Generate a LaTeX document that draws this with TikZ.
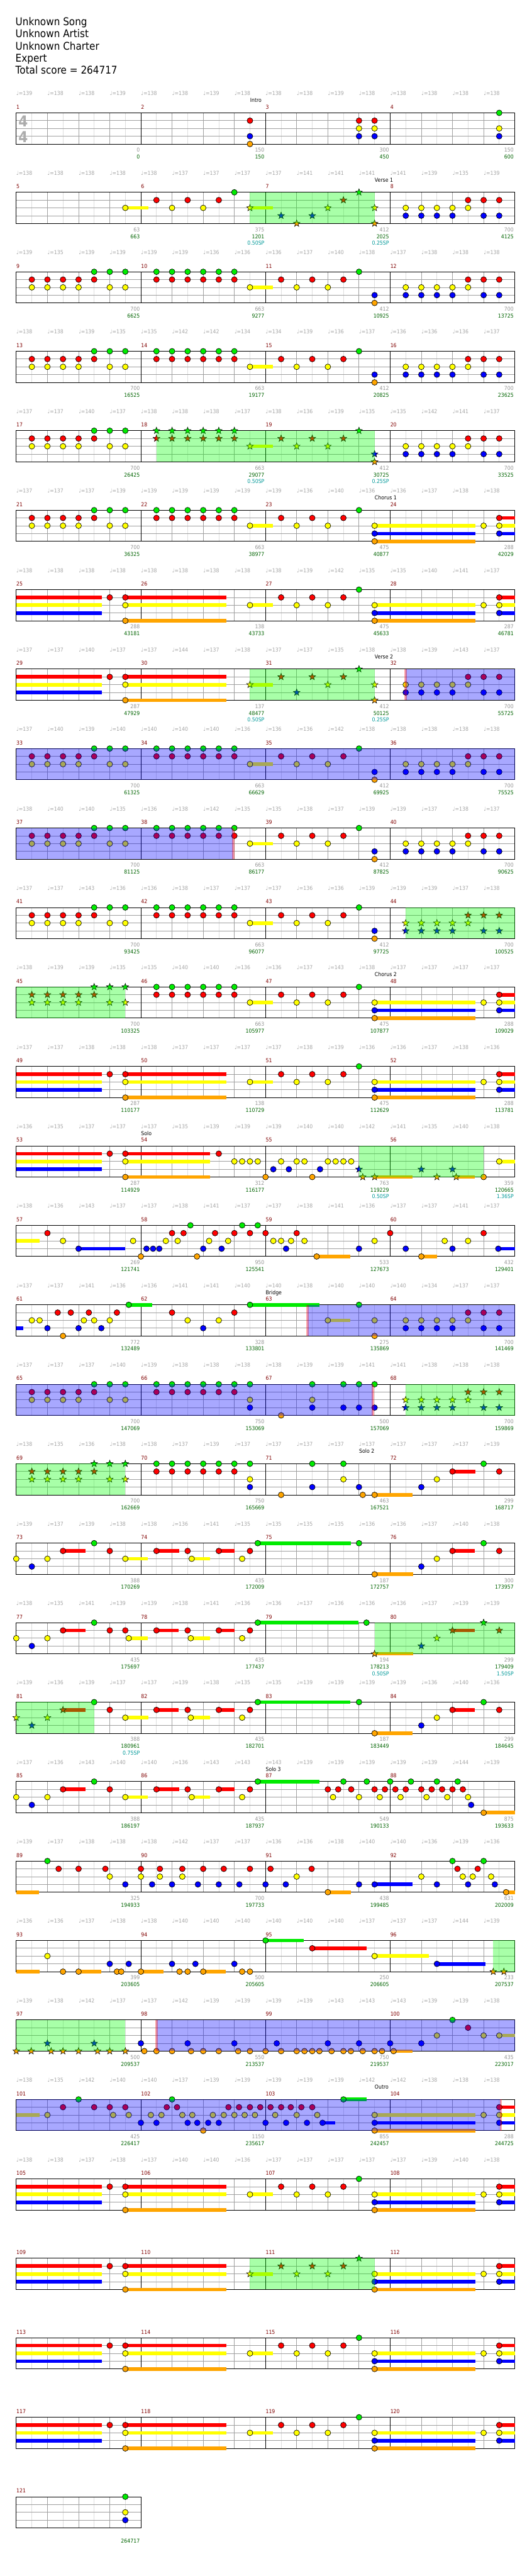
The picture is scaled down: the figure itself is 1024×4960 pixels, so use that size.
\documentclass[tikz,border=0pt]{standalone}
\usepackage{fontspec}
\setmainfont{DejaVu Sans}[FakeStretch=0.9]
\usetikzlibrary{shapes.geometric}

\definecolor{lane0}{RGB}{0,235,0}
\definecolor{lane1}{RGB}{255,0,0}
\definecolor{lane2}{RGB}{255,255,0}
\definecolor{lane3}{RGB}{0,0,255}
\definecolor{lane4}{RGB}{255,165,0}
\definecolor{gridgray}{RGB}{160,160,160}
\definecolor{gridlight}{RGB}{222,222,222}
\definecolor{tempogray}{RGB}{165,165,165}
\definecolor{scoregray}{RGB}{150,150,150}
\definecolor{scoregreen}{RGB}{0,100,0}
\definecolor{spcyan}{RGB}{0,153,153}
\definecolor{mnumred}{RGB}{128,0,0}

\tikzset{
  row/.style={shift={(31.3,{217.3+153*#1})},x=30pt,y=-7.5pt},
  nt/.style={circle, draw, line width=0.4pt, inner sep=0pt, minimum size=5.5pt},
  st/.style={star, star points=5, star point ratio=2.4, draw, line width=0.35pt, inner sep=0pt, minimum size=6.8pt},
  small/.style={font=\fontsize{5.25pt}{6pt}\selectfont, inner sep=0pt},
  tempo/.style={small, text=tempogray, anchor=base west},
  mnum/.style={small, text=mnumred, anchor=base west},
  gscore/.style={small, text=scoregray, anchor=base east},
  cscore/.style={small, text=scoregreen, anchor=base east},
  spscore/.style={small, text=spcyan, anchor=base east},
  section/.style={small, anchor=base west},
  title/.style={font=\fontsize{10.25pt}{12pt}\selectfont, inner sep=0pt, anchor=base west},
  tsig/.style={font=\fontsize{14.5pt}{15pt}\selectfont\bfseries, text=gray!65, inner sep=0pt},
}

% staff grid for one row, #1 = number of beats
\newcommand\staff[1]{%
  \foreach \kk in {1,...,#1} \draw[gridlight, line width=0.5pt] (\kk-.5,0) -- (\kk-.5,4);
  \foreach \kk in {1,...,#1} \draw[gridgray, line width=0.5pt] (\kk,0) -- (\kk,4);
  \foreach \lan in {1,2,3} \draw[gridgray, line width=0.5pt] (0,\lan) -- (#1,\lan);
  \ifnum#1>4 \foreach \kk in {4,8,...,#1} \draw[line width=0.5pt] (\kk,0) -- (\kk,4);\fi
  \draw[line width=0.5pt] (0,0) rectangle (#1,4);
}
% notes, star notes, sustains
\newcommand\nts[1]{\foreach \pos/\lan in {#1} \node[nt, fill=lane\lan] at (\pos,\lan) {};}
\newcommand\sts[1]{\foreach \pos/\lan in {#1} \node[st, fill=lane\lan] at (\pos,\lan) {};}
\newcommand\sus[1]{\foreach \pa/\pe/\lan in {#1} \fill[lane\lan] (\pa,\lan-.23) rectangle (\pe,\lan+.23);}
\newcommand\ysus[2]{\fill[lane2] (#1,1.77) rectangle (#1+.74,2.23); \node[#2, fill=lane2] at (#1,2) {};}
% repeating riffs, #1 = offset, #2 = note style
\newcommand\riffA[2]{\foreach \pos/\lan in {0.5/1,0.5/2,1/1,1/2,1.5/1,1.5/2,2/1,2/2,2.5/0,2.5/1,3/0,3/2,3.5/0,3.5/2} \node[#2, fill=lane\lan] at (#1+\pos,\lan) {};}
\newcommand\riffB[2]{\foreach \pos in {0.5,1,...,3} {\node[#2, fill=lane0] at (#1+\pos,0) {}; \node[#2, fill=lane1] at (#1+\pos,1) {};}}
\newcommand\riffC[2]{\foreach \pos/\lan in {0.5/1,1/2,1.5/1,2/2,2.5/1,3/0} \node[#2, fill=lane\lan] at (#1+\pos,\lan) {};}
\newcommand\riffD[2]{\foreach \pos/\lan in {0.5/2,0.5/3,1/2,1/3,1.5/2,1.5/3,2/2,2/3,2.5/1,2.5/2,3/1,3/3,3.5/1,3.5/3} \node[#2, fill=lane\lan] at (#1+\pos,\lan) {};}
\newcommand\riffrow{\riffA{0}{nt}\riffB{4}{nt}\ysus{7.5}{nt}\riffC{8}{nt}\nts{11.5/3,11.5/4}\riffD{12}{nt}}
\newcommand\chorushead{\sus{0/2.74/1,0/2.74/2,0/2.74/3,3.5/6.75/1,3.5/6.75/2,3.5/6.75/4}\nts{3/1,3.5/1,3.5/2,3.5/4}}
\newcommand\chorustail{\sus{11.5/14.74/2,11.5/14.74/3,11.5/14.74/4,15.5/16/1,15.5/16/2,15.5/16/3}\nts{11.5/2,11.5/3,11.5/4,15/2,15.5/1,15.5/2,15.5/3}}
\newcommand\solohead{\sus{1.5/2.23/1,3.5/4.22/2,4.5/5.24/1,5.63/6.22/2,6.5/7/1}\nts{0/2,0.5/3,1/2,1.5/1,2.5/0,3/1,3.5/2,4.5/1,5.5/1,5.63/2,6.5/1,7.25/2,7.5/1}}
% overlays
\newcommand\spg[2]{\fill[green, opacity=.34] (#1,0) rectangle (#2,4);}
\newcommand\odv[2]{\fill[blue, opacity=.34] (#1,0) rectangle (#2,4);}
\newcommand\pink[1]{\fill[red, opacity=.34] (#1-.035,0) rectangle (#1+.035,4);}
% labels
\newcommand\tempi[1]{\foreach \tm [count=\i from 0] in {#1} \node[tempo] at (\i,-2.22) {♩=\tm};}
\newcommand\mnums[2]{\foreach \i in {1,...,#2} {\pgfmathtruncatemacro\mn{#1+\i-1}\node[mnum] at (4*\i-4,-.49) {\mn};}}
\newcommand\scores[1]{\foreach \gv/\cv [count=\i] in {#1} {\node[gscore] at (4*\i-.03,5.03) {\gv}; \node[cscore] at (4*\i-.03,5.91) {\cv};}}
\newcommand\spv[2]{\node[spscore] at (#1-.03,6.78) {#2};}
\newcommand\sect[2]{\node[section] at (#1,-1.33) {#2};}

\begin{document}
\begin{tikzpicture}[x=0.5pt,y=-0.5pt]
\useasboundingbox (0,0) rectangle (1024,4960);
\fill[white] (0,0) rectangle (1024,4960);

\node[title] (song) at (29.5,49.3) {Unknown Song};
\node[title] (artist) at (29.5,72.6) {Unknown Artist};
\node[title] (charter) at (29.5,95.9) {Unknown Charter};
\node[title] (level) at (29.5,119.2) {Expert};
\node[title] (total) at (29.5,142.5) {Total score = 264717};

\begin{scope}[row=0]
  \staff{16}
  \node[tsig] at (.22,1.07) {4}; \node[tsig] at (.22,3.07) {4};
  \nts{7.5/1,7.5/3,7.5/4,11/1,11/2,11/3,11.5/1,11.5/2,11.5/3,15.5/0,15.5/2,15.5/3}
  \tempi{139,138,138,139,138,138,139,138,138,138,139,138,138,138,138,138}
  \mnums{1}{4}
  \scores{0/0,150/150,300/450,150/600}
  \sect{7.5}{Intro}
\end{scope}

\begin{scope}[row=1]
  \staff{16}
  \ysus{3.5}{nt}
  \nts{4.5/1,5/2,5.5/1,6/2,6.5/1,7/0}
  \ysus{7.5}{st}
  \sts{8.5/3,9/4,9.5/3,10/2,10.5/1,11/0,11.5/2,11.5/4}
  \riffD{12}{nt}
  \spg{7.5}{11.5}
  \tempi{138,138,138,138,138,137,137,137,137,141,141,141,141,139,135,139}
  \mnums{5}{4}
  \scores{63/663,375/1201,412/2025,700/4125}
  \spv{8}{0.50SP}\spv{12}{0.25SP}
  \sect{11.5}{Verse 1}
\end{scope}

\begin{scope}[row=2]
  \staff{16}
  \riffrow
  \tempi{139,135,139,139,139,139,136,136,136,137,140,138,137,138,138,138}
  \mnums{9}{4}
  \scores{700/6625,663/9277,412/10925,700/13725}
\end{scope}

\begin{scope}[row=3]
  \staff{16}
  \riffrow
  \tempi{138,138,139,135,135,142,142,134,134,139,136,137,136,136,136,137}
  \mnums{13}{4}
  \scores{700/16525,663/19177,412/20825,700/23625}
\end{scope}

\begin{scope}[row=4]
  \staff{16}
  \riffA{0}{nt}\riffB{4}{st}\ysus{7.5}{st}\riffC{8}{st}\sts{11.5/3,11.5/4}\riffD{12}{nt}
  \spg{4.5}{11.5}
  \tempi{137,137,140,137,138,138,138,137,138,136,139,135,135,142,141,137}
  \mnums{17}{4}
  \scores{700/26425,663/29077,412/30725,700/33525}
  \spv{8}{0.50SP}\spv{12}{0.25SP}
\end{scope}

\begin{scope}[row=5]
  \staff{16}
  \riffA{0}{nt}\riffB{4}{nt}\ysus{7.5}{nt}\riffC{8}{nt}\chorustail
  \tempi{137,137,137,139,139,139,139,139,139,136,140,136,136,137,138,138}
  \mnums{21}{4}
  \scores{700/36325,663/38977,475/40877,288/42029}
  \sect{11.5}{Chorus 1}
\end{scope}

\begin{scope}[row=6]
  \staff{16}
  \chorushead\ysus{7.5}{nt}\riffC{8}{nt}\chorustail
  \tempi{138,138,138,138,138,138,138,138,138,139,142,135,135,140,141,137}
  \mnums{25}{4}
  \scores{288/43181,138/43733,475/45633,287/46781}
\end{scope}

\begin{scope}[row=7]
  \staff{16}
  \chorushead\ysus{7.5}{st}
  \sts{8.5/1,9/3,9.5/1,10/2,10.5/1,11/0,11.5/2,11.5/4}
  \riffD{12}{nt}
  \spg{7.5}{11.5}\odv{12.5}{16}\pink{12.5}
  \tempi{137,137,140,137,137,144,137,138,137,137,135,138,138,139,143,137}
  \mnums{29}{4}
  \scores{287/47929,137/48477,412/50125,700/55725}
  \spv{8}{0.50SP}\spv{12}{0.25SP}
  \sect{11.5}{Verse 2}
\end{scope}

\begin{scope}[row=8]
  \staff{16}
  \riffrow
  \odv{0}{16}
  \tempi{137,140,139,140,140,140,140,136,136,136,142,138,138,138,138,138}
  \mnums{33}{4}
  \scores{700/61325,663/66629,412/69925,700/75525}
\end{scope}

\begin{scope}[row=9]
  \staff{16}
  \riffrow
  \odv{0}{6.97}\pink{6.965}
  \tempi{138,140,140,135,136,138,142,135,135,138,137,139,139,137,138,137}
  \mnums{37}{4}
  \scores{700/81125,663/86177,412/87825,700/90625}
\end{scope}

\begin{scope}[row=10]
  \staff{16}
  \riffA{0}{nt}\riffB{4}{nt}\ysus{7.5}{nt}\riffC{8}{nt}\nts{11.5/3,11.5/4}\riffD{12}{st}
  \spg{12.5}{16}
  \tempi{137,137,143,136,136,138,137,137,137,136,136,139,139,139,137,138}
  \mnums{41}{4}
  \scores{700/93425,663/96077,412/97725,700/100525}
\end{scope}

\begin{scope}[row=11]
  \staff{16}
  \riffA{0}{st}\riffB{4}{nt}\ysus{7.5}{nt}\riffC{8}{nt}\chorustail
  \spg{0}{3.5}
  \tempi{138,139,139,135,135,140,140,136,136,137,143,138,137,137,137,137}
  \mnums{45}{4}
  \scores{700/103325,663/105977,475/107877,288/109029}
  \sect{11.5}{Chorus 2}
\end{scope}

\begin{scope}[row=12]
  \staff{16}
  \chorushead\ysus{7.5}{nt}\riffC{8}{nt}\chorustail
  \tempi{137,137,138,138,138,137,137,137,137,138,139,136,136,137,138,136}
  \mnums{49}{4}
  \scores{287/110177,138/110729,475/112629,288/113781}
\end{scope}

\begin{scope}[row=13]
  \staff{16}
  \sus{0/2.74/1,0/2.74/2,0/2.74/3,3.5/6.22/1,3.5/6.22/2,3.5/6.22/4,11.5/12.72/4,14.12/14.72/4,15.5/16/2}
  \nts{3/1,3.5/1,3.5/2,3.5/4,6.5/1,7/2,7.25/2,7.5/2,7.75/2,8/4,8.25/3,8.5/2,8.75/3,9/2,9.25/2,9.5/4,9.75/3,10/2,10.25/2,10.5/2,10.75/2,15/4,15.5/2}
  \sts{11/3,11.12/4,11.5/4,13/3,13.5/4,14/3,14.12/4}
  \spg{11}{15}
  \tempi{136,135,137,137,137,135,139,139,139,140,140,142,141,135,140,138}
  \mnums{53}{4}
  \scores{287/114929,312/116177,763/119229,359/120665}
  \spv{12}{0.50SP}\spv{16}{1.36SP}
  \sect{4}{Solo}
\end{scope}

\begin{scope}[row=14]
  \staff{16}
  \sus{0/0.74/2,2/3.49/3,9.64/10.72/4,13/13.5/4,15.47/16/3}
  \nts{1/1,1.5/2,2/3,3.75/2,4/4,4.18/3,4.39/3,4.59/3,4.8/2,5/1,5.18/2,5.37/1,5.59/0,5.8/4,6/3,6.19/2,6.38/1,6.59/3,6.8/2,7/1,7.25/0,7.5/1,7.75/0,8/1,8.25/2,8.5/2,8.66/3,8.82/2,9/1,9.25/2,9.64/4,11/3,11.5/2,12/1,12.5/3,13/4,13.75/2,14/3,14.5/2,15/1,15.47/3}
  \tempi{138,136,143,137,137,138,141,137,137,138,141,136,137,137,141,137}
  \mnums{57}{4}
  \scores{269/121741,950/125541,533/127673,432/129401}
\end{scope}

\begin{scope}[row=15]
  \staff{16}
  \sus{0/0.23/3,3.61/4.36/0,7.5/9.74/0,10/10.72/2}
  \nts{0.5/2,0.75/2,1/3,1.33/1,1.5/4,1.75/1,2/3,2.17/2,2.33/1,2.5/2,2.73/3,3/2,3.23/1,3.61/0,5/1,5.5/2,6/3,6.5/2,7/1,7.5/0,10/2,11/0,11.5/2,11.5/4}
  \riffD{12}{nt}
  \odv{9.35}{16}\pink{9.35}
  \tempi{137,137,141,136,136,141,141,140,140,138,140,140,140,134,137,137}
  \mnums{61}{4}
  \scores{772/132489,328/133801,275/135869,700/141469}
  \sect{8}{Bridge}
\end{scope}

\begin{scope}[row=16]
  \staff{16}
  \riffA{0}{nt}\riffB{4}{nt}
  \nts{7.5/0,7.5/2,7.5/3,8.5/4,9.5/0,9.5/2,9.5/3,10.5/0,10.5/3,11/0,11/3,11.5/0,11.5/3}
  \riffD{12}{st}
  \odv{0}{11.45}\pink{11.45}\spg{12.5}{16}
  \tempi{137,137,137,140,139,138,138,138,138,139,139,141,141,138,138,138}
  \mnums{65}{4}
  \scores{700/147069,750/153069,500/157069,700/159869}
\end{scope}

\begin{scope}[row=17]
  \staff{16}
  \riffA{0}{st}\riffB{4}{nt}
  \sus{11.5/12.72/4,14/14.74/1}
  \nts{7.5/0,7.5/2,7.5/3,8.5/4,9.5/0,9.5/3,10.5/0,10.5/2,11/3,11.12/4,11.5/4,13/3,13.5/2,14/1,15/0,15.5/1}
  \spg{0}{3.5}
  \tempi{138,135,136,138,138,137,139,137,137,137,137,137,137,137,137,139}
  \mnums{69}{4}
  \scores{700/162669,750/165669,463/167521,299/168717}
  \sect{11}{Solo 2}
\end{scope}

\begin{scope}[row=18]
  \staff{16}
  \solohead
  \sus{7.75/10.74/0,11.5/12.74/4,14/14.72/1}
  \nts{7.75/0,11/0,11.5/4,13/3,13.5/2,14/1,15/0,15.5/1}
  \tempi{139,137,139,138,138,136,141,135,135,135,135,136,136,137,140,138}
  \mnums{73}{4}
  \scores{388/170269,435/172009,187/172757,300/173957}
\end{scope}

\begin{scope}[row=19]
  \staff{16}
  \sus{1.5/2.23/1,3.61/4.22/2,4.5/5.22/1,5.6/6.22/2,6.5/7/1,7.75/10.99/0,11.5/12.74/4,14/14.72/1}
  \nts{0/2,0.5/3,1/2,1.5/1,2.5/0,3/1,3.5/1,3.61/2,4.5/1,5.5/1,5.6/2,6.5/1,7.25/2,7.5/1,7.75/0,11.24/0}
  \sts{11.5/4,13/3,13.5/2,14/1,15/0,15.5/1}
  \spg{11.5}{16}
  \tempi{138,135,141,139,139,138,141,136,136,137,136,136,136,137,139,139}
  \mnums{77}{4}
  \scores{435/175697,435/177437,194/178213,299/179409}
  \spv{12}{0.50SP}\spv{16}{1.50SP}
\end{scope}

\begin{scope}[row=20]
  \staff{16}
  \sus{1.5/2.23/1,3.5/4.24/2,4.5/5.22/1,5.6/6.22/2,6.5/7/1,7.75/10.72/0,11.5/12.72/4,14/14.72/1}
  \sts{0/2,0.5/3,1/2,1.5/1}
  \nts{2.5/0,3/1,3.5/2,4.5/1,5.5/1,5.6/2,6.5/1,7.25/2,7.5/1,7.75/0,11/0,11.5/4,13/3,13.5/2,14/1,15/0,15.5/1}
  \spg{0}{2.5}
  \tempi{139,136,139,137,137,139,138,135,135,139,139,139,139,136,140,136}
  \mnums{81}{4}
  \scores{388/180961,435/182701,187/183449,299/184645}
  \spv{4}{0.75SP}
\end{scope}

\begin{scope}[row=21]
  \staff{16}
  \solohead
  \sus{7.75/9.73/0,15/16/4}
  \nts{7.75/0,10/1,10.167/2,10.333/1,10.5/0,10.75/1,11/2,11.25/0,11.5/1,11.667/2,11.833/1,12/0,12.167/1,12.333/2,12.5/1,12.667/0,13/1,13.167/2,13.333/1,13.5/0,13.667/1,13.833/2,14/1,14.167/0,14.333/1,14.5/2,14.6/3,15/4}
  \tempi{137,136,143,140,140,136,143,143,143,139,139,139,139,139,144,139}
  \mnums{85}{4}
  \scores{388/186197,435/187937,549/190133,875/193633}
  \sect{8}{Solo 3}
\end{scope}

\begin{scope}[row=22]
  \staff{16}
  \sus{0/0.73/4,10/10.74/4,11.5/12.72/3,15.72/16/4}
  \nts{1/0,1.36/1,2/1,2.86/1,3/2,3.5/3,4/1,4/2,4.36/3,4.61/1,4.61/2,5/3,5.33/1,5.33/2,5.83/3,6/1,6.5/3,6.66/1,7.16/3,7.5/1,8/3,8.16/1,8.65/3,9/2,9.48/1,10/4,11/3,11.5/3,13/2,13.5/3,14/0,14.16/1,14.33/2,14.5/3,14.65/2,14.81/1,15/0,15.24/2,15.36/3,15.72/4}
  \tempi{139,137,138,138,138,142,137,137,136,136,138,140,140,136,139,136}
  \mnums{89}{4}
  \scores{325/194933,700/197733,438/199485,631/202009}
\end{scope}

\begin{scope}[row=23]
  \staff{16}
  \sus{0/0.74/4,2/2.73/4,4/4.72/4,6/6.72/4,8/9.22/0,9.5/11.24/1,11.5/13.24/2,13.5/15.06/3}
  \nts{1/2,1.5/4,2/4,3/3,3.23/4,3.37/4,3.61/3,4/4,5/3,5.24/4,5.5/4,5.75/3,6/4,7/3,7.25/4,7.5/4,8/0,9.5/1,11.5/2,13.5/3}
  \sts{15.31/4,15.65/4}
  \spg{15.31}{16}
  \tempi{136,136,137,138,138,140,140,140,140,140,140,137,137,137,144,139}
  \mnums{93}{4}
  \scores{399/203605,500/205605,250/206605,233/207537}
\end{scope}

\begin{scope}[row=24]
  \staff{16}
  \sus{12.11/12.72/4,15.5/16/2}
  \sts{0/4,0.48/4,1/3,1.12/4,1.5/4,2/4,2.5/3,2.61/4,3/4,3.5/4}
  \nts{4/3,4.11/4,4.5/4,5/4,5.5/3,5.61/4,6/4,6.5/4,7/3,7.12/4,7.5/4,8/4,8.36/3,8.5/4,9/4,9.25/4,9.5/4,9.73/4,10/3,10.12/4,10.5/4,10.74/4,11/3,11.12/4,11.5/4,11.74/4,12/3,12.11/4,13/3,13.5/2,14/0,14.5/1,15/2,15.5/2}
  \spg{0}{3.5}\odv{4.5}{16}\pink{4.5}
  \tempi{139,138,142,137,137,142,139,139,139,139,143,143,143,139,139,138}
  \mnums{97}{4}
  \scores{500/209537,550/213537,750/219537,435/223017}
\end{scope}

\begin{scope}[row=25]
  \staff{16}
  \sus{0/0.74/2,9.83/10.23/3,10.5/11.24/0}
  \nts{1/2,1.5/1,2/0,2.5/1,3/1,3.11/2,3.5/1,3.61/2,4/3,4.32/2,4.5/3,4.66/2,4.83/1,5/0,5.16/1,5.33/2,5.5/3,5.65/2,5.81/3,6/4,6.16/3,6.31/2,6.5/3,6.66/2,6.81/1,7/2,7.15/1,7.33/2,7.5/1,7.66/2,7.83/1,8/3,8.16/1,8.31/2,8.5/1,8.66/3,8.81/1,9/2,9.15/1,9.33/3,9.5/1,9.66/2,9.83/3,10.5/0}
  \chorustail
  \odv{0}{15.55}\pink{15.55}
  \tempi{138,135,142,140,140,137,139,139,139,139,139,142,142,138,138,138}
  \mnums{101}{4}
  \scores{425/226417,1150/235617,855/242457,288/244725}
  \sect{11.5}{Outro}
\end{scope}

\begin{scope}[row=26]
  \staff{16}
  \chorushead\ysus{7.5}{nt}\riffC{8}{nt}\chorustail
  \tempi{138,138,137,138,137,140,140,136,137,137,137,137,137,139,140,138}
  \mnums{105}{4}
\end{scope}

\begin{scope}[row=27]
  \staff{16}
  \chorushead\ysus{7.5}{st}\riffC{8}{st}\chorustail
  \spg{7.5}{11.5}
  \mnums{109}{4}
\end{scope}

\begin{scope}[row=28]
  \staff{16}
  \chorushead\ysus{7.5}{nt}\riffC{8}{nt}\chorustail
  \mnums{113}{4}
\end{scope}

\begin{scope}[row=29]
  \staff{16}
  \chorushead\ysus{7.5}{nt}\riffC{8}{nt}\chorustail
  \mnums{117}{4}
\end{scope}

\begin{scope}[row=30]
  \staff{4}
  \nts{3.5/0,3.5/2,3.5/3}
  \mnums{121}{1}
  \node[cscore] at (3.97,5.91) {264717};
\end{scope}
\end{tikzpicture}
\end{document}
